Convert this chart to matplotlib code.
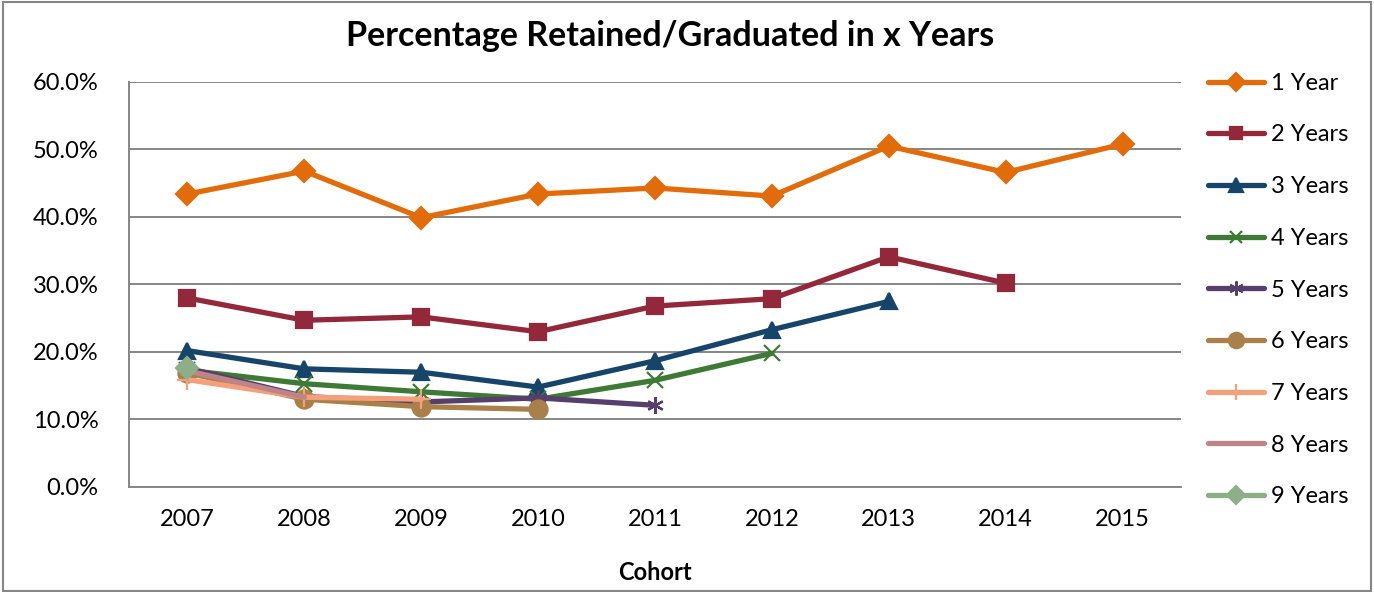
import numpy as np
import matplotlib.pyplot as plt
from matplotlib.patches import Rectangle
from matplotlib.ticker import PercentFormatter

plt.rcParams['font.family'] = ['Lato', 'DejaVu Sans']

# ── Data ──────────────────────────────────────────────────────────────────────
cohorts = ["2007", "2008", "2009", "2010", "2011", "2012", "2013", "2014", "2015"]

year1 = [43.4, 46.8, 39.9, 43.4, 44.3, 43.1, 50.5, 46.6, 50.8]
year2 = [28.0, 24.7, 25.2, 23.0, 26.8, 27.9, 34.1, 30.2]
year3 = [20.2, 17.5, 17.0, 14.8, 18.7, 23.3, 27.5]
year4 = [17.3, 15.3, 14.1, 13.0, 15.8, 19.8]
year5 = [17.6, 13.4, 12.6, 13.2, 12.1]
year6 = [16.9, 13.0, 11.9, 11.5]
year7 = [15.9, 13.3, 13.0]
year8 = [17.2, 13.3]
year9 = [17.6]

series = [
    ("1 Year", year1, "#E36C0A", "D", 11),
    ("2 Years", year2, "#93283A", "s", 11),
    ("3 Years", year3, "#17456A", "^", 12),
    ("4 Years", year4, "#3E7A36", "x", 11),
    ("5 Years", year5, "#563F6D", (6, 2, 0), 12),
    ("6 Years", year6, "#A98049", "o", 13),
    ("7 Years", year7, "#F5A07C", "+", 14),
    ("8 Years", year8, "#BE8487", None, 0),
    ("9 Years", year9, "#8DAF88", "D", 11),
]

# ── Plot ──────────────────────────────────────────────────────────────────────
fig = plt.figure(figsize=(13.74, 5.92), dpi=100)
ax = fig.add_axes([0.0939, 0.1774, 0.7656, 0.6841])

x = np.arange(len(cohorts))
for label, vals, color, marker, ms in series:
    ax.plot(x[:len(vals)], vals, color=color, lw=3.8, marker=marker,
            markersize=ms, markeredgewidth=1.6, label=label,
            solid_capstyle="round", solid_joinstyle="round")

ax.set_xlim(-0.5, len(cohorts) - 0.5)
ax.set_ylim(0, 60)
ax.set_yticks(np.arange(0, 61, 10))
ax.yaxis.set_major_formatter(PercentFormatter(decimals=1))
ax.set_xticks(x)
ax.set_xticklabels(cohorts)
ax.tick_params(axis="both", length=0, labelsize=17)
ax.tick_params(axis="x", pad=16)
ax.tick_params(axis="y", pad=22)
ax.grid(axis="y", color="#868686", lw=1.4)
ax.set_axisbelow(True)
for side in ["top", "right"]:
    ax.spines[side].set_visible(False)
for side in ["left", "bottom"]:
    ax.spines[side].set_color("#868686")
    ax.spines[side].set_linewidth(1.4)

ax.set_xlabel("Cohort", fontsize=17, fontweight="bold", labelpad=22)
fig.text(0.488, 0.94, "Percentage Retained/Graduated in x Years",
         ha="center", va="center", fontsize=24.5, fontweight="bold")

leg = fig.legend(loc="upper left", bbox_to_anchor=(0.872, 0.893), frameon=False,
                 fontsize=17, handlelength=2.4, handletextpad=0.3,
                 labelspacing=1.3, borderaxespad=0, markerscale=0.85)

fig.patches.append(Rectangle((0.002, 0.002), 0.996, 0.994, transform=fig.transFigure,
                             fill=False, edgecolor="#868686", lw=1.5))

fig.savefig("out.png", dpi=100)
